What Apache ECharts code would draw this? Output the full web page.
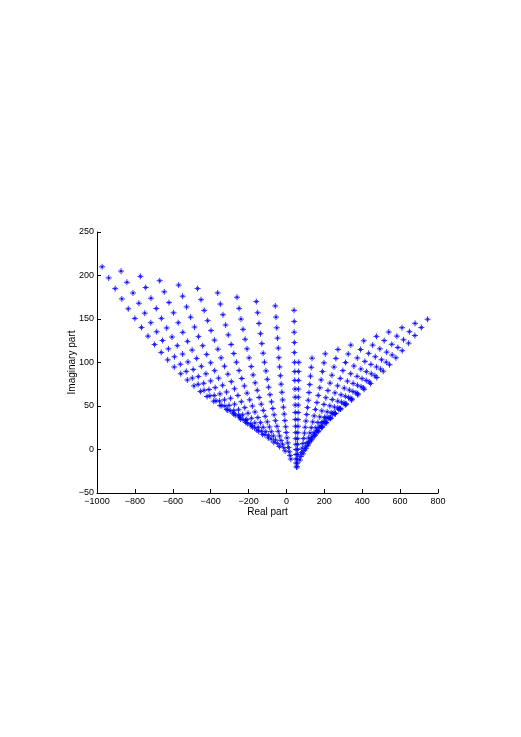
<!DOCTYPE html>
<html>
<head>
<meta charset="utf-8">
<script src="https://cdn.jsdelivr.net/npm/echarts@6/dist/echarts.min.js"></script>
<style>html,body{margin:0;padding:0;background:#fff;}#c{width:521px;height:737px;}</style>
</head>
<body>
<div id="c"></div>
<script>
// Axis ticks
const xTicks = [-1000, -800, -600, -400, -200, 0, 200, 400, 600, 800];
const yTicks = [-50, 0, 50, 100, 150, 200, 250];

// Left family of rays (each inner array = one ray, top to bottom)
const leftRaysX = [
  [-973,-938,-904,-869,-835,-800,-765,-731,-696,-661,-627,-592,-558,-523,-488,-454,-419,-384,-350,-315,-281,-246],
  [-873,-842,-810,-779,-748,-716,-685,-654,-623,-591,-560,-529,-497,-466,-435,-404,-372,-341,-310,-278,-247,-216],
  [-771,-743,-715,-687,-660,-632,-604,-576,-548,-520,-492,-465,-437,-409,-381,-353,-325,-297,-270,-242,-214,-186],
  [-669,-645,-620,-596,-571,-547,-522,-498,-474,-449,-425,-400,-376,-351,-327,-303,-278,-254,-229,-205,-180,-156],
  [-569,-548,-527,-506,-485,-464,-442,-421,-400,-379,-358,-337,-316,-295,-274,-253,-231,-210,-189,-168,-147,-126],
  [-469,-451,-434,-416,-398,-380,-362,-345,-327,-309,-291,-274,-256,-238,-220,-203,-185,-167,-149,-132,-114,-96],
  [-363,-349,-335,-321,-307,-292,-278,-264,-250,-236,-222,-208,-194,-180,-166,-151,-137,-123,-109,-95,-81,-67],
  [-261,-250,-240,-229,-218,-208,-197,-186,-176,-165,-154,-144,-133,-122,-112,-101,-90,-80,-69,-58,-48,-37],
  [-159,-152,-145,-137,-130,-123,-116,-108,-101,-94,-87,-79,-72,-65,-58,-50,-43,-36,-29,-21,-14,-7],
  [-59,-55,-51,-47,-43,-40,-36,-32,-28,-24,-20,-16,-12,-8,-4,-1,3,7,11,15,19,23],
  [40,41,41,42,42,43,44,44,45,46,46,47,47,48,49,49,50,51,51,52,52,53]
];
const leftRaysY = [
  [210,197.2,184.9,173.1,161.7,150.7,140.3,130.3,120.7,111.6,103,94.8,87.1,79.9,73.1,66.7,60.9,55.5,50.5,46,42,38.4],
  [205,192.2,179.9,168.1,156.7,145.7,135.3,125.3,115.7,106.6,98,89.8,82.1,74.9,68.1,61.7,55.9,50.5,45.5,41,37,33.4],
  [199,186.2,173.9,162.1,150.7,139.7,129.3,119.3,109.7,100.6,92,83.8,76.1,68.9,62.1,55.7,49.9,44.5,39.5,35,31,27.4],
  [194,181.2,168.9,157.1,145.7,134.7,124.3,114.3,104.7,95.6,87,78.8,71.1,63.9,57.1,50.7,44.9,39.5,34.5,30,26,22.4],
  [189,176.2,163.9,152.1,140.7,129.7,119.3,109.3,99.7,90.6,82,73.8,66.1,58.9,52.1,45.7,39.9,34.5,29.5,25,21,17.4],
  [185,172.2,159.9,148.1,136.7,125.7,115.3,105.3,95.7,86.6,78,69.8,62.1,54.9,48.1,41.7,35.9,30.5,25.5,21,17,13.4],
  [180,167.2,154.9,143.1,131.7,120.7,110.3,100.3,90.7,81.6,73,64.8,57.1,49.9,43.1,36.7,30.9,25.5,20.5,16,12,8.4],
  [175,162.2,149.9,138.1,126.7,115.7,105.3,95.3,85.7,76.6,68,59.8,52.1,44.9,38.1,31.7,25.9,20.5,15.5,11,7,3.4],
  [170,157.2,144.9,133.1,121.7,110.7,100.3,90.3,80.7,71.6,63,54.8,47.1,39.9,33.1,26.7,20.9,15.5,10.5,6,2,-1.6],
  [165,152.2,139.9,128,116.5,105.5,94.9,84.8,75.1,65.8,57,48.6,40.7,33.2,26.1,19.5,13.3,7.6,2.3,-2.6,-7,-11],
  [160,147.2,134.8,122.9,111.4,100.2,89.6,79.4,69.5,60.1,51.1,42.5,34.4,26.7,19.4,12.4,6,0,-5.7,-10.9,-15.6,-20]
];

// Right family of rays
const rightRaysX = [
  [65,64,64,63,63,62,62,61,61,60,59,59,58,58,57,57,56],
  [135,131,127,123,119,115,111,107,103,99,95,91,87,83,79,75,71],
  [205,198,190,183,176,168,161,153,146,139,131,124,117,109,102,94,87],
  [272,261,251,240,230,219,208,198,187,176,166,155,145,134,123,113,102],
  [340,326,312,298,284,270,256,242,229,215,201,187,173,159,145,131,117],
  [408,391,374,356,339,322,305,288,271,253,236,219,202,185,167,150,133],
  [475,455,434,414,393,373,352,332,311,291,271,250,230,209,189,168,148],
  [540,516,493,469,446,422,399,375,351,328,304,281,257,234,210,187,163],
  [610,583,556,529,502,475,448,421,394,367,340,313,286,259,232,205,178],
  [679,649,618,588,558,527,497,467,437,406,376,346,315,285,255,224,194],
  [745,712,678,645,611,578,544,511,477,444,410,377,343,310,276,243,209]
];
const rightRaysY = [
  [100.2,89.6,79.4,69.5,60.1,51.1,42.5,34.4,26.7,19.4,12.4,6,0,-5.7,-10.9,-15.6,-20],
  [105,94.5,84.3,74.6,65.4,56.6,48.2,40.2,32.7,25.6,18.9,12.7,6.9,1.5,-3.4,-8,-12],
  [110,99.6,89.6,80,70.9,62.2,53.9,46,38.6,31.7,25.1,19,13.3,8,3.2,-1.2,-5.1],
  [115,104.7,94.8,85.4,76.3,67.7,59.5,51.8,44.4,37.5,31,24.9,19.3,14.1,9.3,4.9,1],
  [120,109.8,100,90.7,81.7,73.2,65.1,57.4,50.2,43.3,36.9,30.9,25.3,20.1,15.4,11,7.1],
  [125,114.9,105.2,96,87.1,78.6,70.6,62.9,55.6,48.8,42.3,36.2,30.6,25.3,20.5,16,12],
  [130,120,110.5,101.3,92.5,84.1,76,68.4,61.1,54.3,47.8,41.7,36,30.7,25.8,21.3,17.1],
  [135,125.2,115.7,106.6,97.8,89.5,81.5,73.8,66.6,59.7,53.2,47.1,41.3,35.9,30.9,26.3,22],
  [140,130.3,120.9,111.9,103.2,94.9,87,79.4,72.1,65.2,58.7,52.5,46.7,41.3,36.2,31.4,27],
  [145,135.4,126.1,117.2,108.6,100.3,92.4,84.8,77.6,70.7,64.1,57.9,52,46.5,41.3,36.4,31.9],
  [149.7,140.2,131,122.2,113.6,105.4,97.5,90,82.7,75.8,69.2,62.9,57,51.4,46.1,41.1,36.5]
];

function zipRays(xs, ys) {
  const out = [];
  xs.forEach((ray, i) => ray.forEach((x, k) => out.push([x, ys[i][k]])));
  return out;
}
const points = zipRays(leftRaysX, leftRaysY).concat(zipRays(rightRaysX, rightRaysY));

const FONT = 'Liberation Sans, Arial, sans-serif';
const minus = v => String(v).replace('-', '\u2212');

const chart = echarts.init(document.getElementById('c'), null, { renderer: 'canvas' });
chart.setOption({
  animation: false,
  backgroundColor: '#fff',
  grid: { left: 97, right: 83, top: 232, bottom: 244, containLabel: false },
  xAxis: {
    type: 'value',
    min: xTicks[0], max: xTicks[xTicks.length - 1], interval: 200,
    axisLine: { show: true, onZero: false, lineStyle: { color: '#000', width: 1 } },
    axisTick: { show: true, inside: true, length: 4, lineStyle: { color: '#000' } },
    splitLine: { show: false },
    axisLabel: { fontSize: 9, color: '#000', fontFamily: FONT, margin: 4, formatter: minus, showMinLabel: true, showMaxLabel: true },
    name: 'Real part', nameLocation: 'middle', nameGap: 13,
    nameTextStyle: { fontSize: 10, color: '#000', fontFamily: FONT }
  },
  yAxis: {
    type: 'value',
    min: yTicks[0], max: yTicks[yTicks.length - 1], interval: 50,
    axisLine: { show: true, onZero: false, lineStyle: { color: '#000', width: 1 } },
    axisTick: { show: true, inside: true, length: 4, lineStyle: { color: '#000' } },
    splitLine: { show: false },
    axisLabel: { fontSize: 9, color: '#000', fontFamily: FONT, margin: 3, formatter: minus, showMinLabel: true, showMaxLabel: true },
    name: 'Imaginary part', nameLocation: 'middle', nameGap: 20, nameMoveOverlap: false,
    nameTextStyle: { fontSize: 10, color: '#000', fontFamily: FONT }
  },
  series: [{
    type: 'scatter',
    data: points,
    symbol: 'path://M4,0V8M0,4H8M2,2L6,6M6,2L2,6',
    symbolSize: 6,
    itemStyle: { color: 'rgba(0,0,0,0)', borderColor: '#0000ff', borderWidth: 1 },
    emphasis: { disabled: true }
  }]
});
</script>
</body>
</html>
